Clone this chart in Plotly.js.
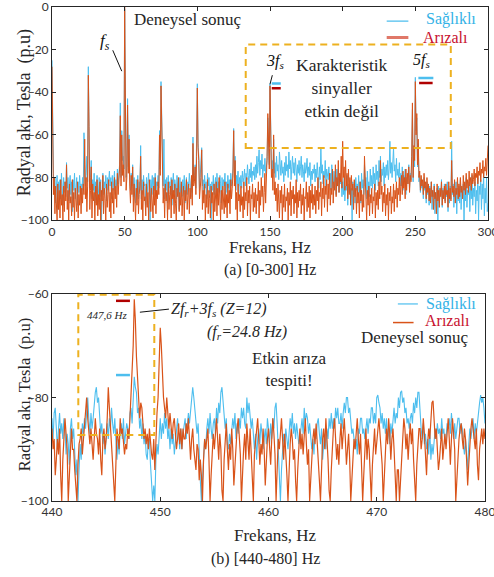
<!DOCTYPE html>
<html>
<head>
<meta charset="utf-8">
<script src="https://cdn.plot.ly/plotly-3.0.1.min.js"></script>
<style>html,body{margin:0;padding:0;background:#fff;}#chart{width:494px;height:577px;}</style>
</head>
<body>
<div id="chart"></div>
<script>
// ---- Data ----
// Top panel: 0-300 Hz, 0.5 Hz spacing (dB, p.u)
const freqTopStart = 0, freqTopStep = 0.5;
const healthyTop = [
-25,-64,-78,-88,-80,-92,-83,-79,-95,-82,-86,-81,-90,-78,-84,-93,-80,-87,-82,-89,
-73,-85,-80,-91,-83,-79,-88,-82,-96,-81,-86,-78,-90,-84,-80,-93,-82,-87,-79,-85,
-83,-88,-80,-86,-59,-74,-84,-79,-70,-82,-28,-60,-85,-80,-72,-90,-81,-86,-78,-92,
-82,-87,-79,-93,-84,-80,-89,-81,-100,-83,-78,-88,-82,-85,-79,-91,-80,-86,-83,-77,
-84,-80,-90,-79,-86,-82,-77,-88,-81,-84,-76,-83,-79,-74,-45,-80,-58,-72,-70,-76,
-1,-70,-80,-76,-43,-75,-60,-80,-86,-78,-84,-74,-89,-80,-85,-92,-81,-87,-79,-90,
-82,-86,-65,-90,-81,-88,-79,-84,-83,-93,-80,-87,-82,-78,-86,-100,-81,-85,-79,-88,
-80,-86,-78,-89,-82,-84,-79,-85,-58,-76,-35,-55,-68,-84,-62,-90,-81,-86,-80,-92,
-79,-85,-82,-88,-80,-93,-83,-78,-87,-81,-84,-90,-79,-86,-82,-95,-80,-87,-83,-89,
-81,-86,-79,-92,-84,-80,-88,-82,-85,-78,-83,-89,-80,-87,-61,-82,-79,-74,-85,-68,
-36,-64,-70,-86,-80,-78,-66,-84,-81,-88,-79,-85,-82,-90,-78,-84,-80,-87,-83,-100,
-82,-86,-79,-88,-84,-80,-90,-78,-85,-82,-87,-79,-83,-92,-80,-86,-81,-84,-78,-88,
-82,-87,-79,-85,-81,-89,-78,-84,-80,-76,-57,-80,-70,-86,-79,-83,-77,-88,-80,-84,
-79,-85,-77,-82,-80,-76,-84,-78,-81,-74,-79,-83,-76,-80,-73,-82,-77,-79,-75,-81,
-74,-80,-70,-78,-73,-67,-79,-72,-76,-69,-80,-74,-77,-71,-78,-75,-72,-52,-70,-74,
-36,-60,-76,-72,-80,-62,-78,-73,-80,-70,-77,-74,-81,-68,-76,-79,-72,-78,-75,-82,
-73,-79,-70,-77,-74,-80,-68,-76,-72,-81,-75,-70,-78,-73,-79,-71,-76,-82,-74,-78,
-72,-79,-75,-70,-80,-74,-77,-82,-73,-78,-76,-71,-80,-75,-79,-73,-84,-77,-81,-76,
-78,-74,-82,-76,-80,-73,-79,-85,-75,-81,-66,-78,-74,-83,-77,-80,-72,-84,-76,-79,
-81,-75,-83,-78,-86,-74,-80,-85,-77,-82,-79,-88,-76,-84,-80,-87,-78,-83,-81,-89,
-82,-88,-80,-91,-84,-86,-79,-93,-83,-87,-81,-90,-85,-100,-82,-88,-84,-92,-80,-86,
-83,-89,-79,-87,-82,-92,-78,-85,-81,-88,-74,-84,-80,-90,-77,-86,-82,-89,-76,-84,
-79,-85,-75,-83,-78,-86,-74,-81,-77,-84,-72,-80,-70,-82,-76,-79,-73,-84,-75,-80,
-74,-79,-72,-81,-76,-63,-78,-73,-80,-75,-66,-77,-74,-82,-71,-79,-76,-80,-73,-84,
-78,-84,-75,-86,-79,-82,-76,-88,-80,-83,-77,-74,-85,-78,-81,-72,-48,-82,-66,-75,
-33,-58,-52,-75,-64,-82,-79,-87,-81,-85,-83,-90,-80,-86,-84,-92,-82,-88,-85,-93,
-84,-90,-82,-95,-86,-89,-83,-97,-87,-91,-85,-100,-84,-92,-86,-88,-81,-94,-85,-90,
-83,-91,-86,-89,-82,-96,-85,-92,-84,-90,-63,-88,-83,-94,-86,-90,-82,-97,-85,-91,
-84,-92,-81,-95,-86,-89,-83,-100,-85,-91,-80,-94,-86,-88,-82,-96,-84,-90,-79,-93,
-85,-89,-82,-97,-86,-91,-80,-100,-84,-88,-81,-95,-83,-90,-78,-98,-85,-92,-80,-96,
-92];
const faultyTop = [
-28,-68,-88,-80,-97,-84,-92,-100,-83,-95,-86,-99,-81,-93,-88,-100,-84,-96,-82,-91,
-74,-95,-86,-100,-83,-92,-89,-98,-81,-94,-87,-100,-85,-90,-96,-82,-99,-88,-93,-84,
-97,-85,-92,-83,-88,-62,-90,-80,-96,-84,-32,-56,-95,-86,-75,-99,-83,-91,-87,-100,
-84,-93,-81,-98,-88,-95,-82,-100,-86,-91,-79,-97,-85,-90,-100,-83,-94,-88,-81,-96,
-87,-99,-82,-92,-85,-97,-80,-90,-84,-94,-78,-88,-82,-76,-51,-84,-60,-79,-74,-82,
0,-72,-86,-80,-46,-78,-62,-84,-92,-79,-88,-75,-96,-83,-90,-100,-85,-93,-81,-97,
-88,-84,-70,-95,-86,-100,-82,-91,-89,-98,-83,-94,-87,-100,-81,-92,-96,-85,-90,-99,
-84,-93,-80,-97,-86,-90,-82,-88,-60,-79,-37,-58,-70,-92,-85,-99,-83,-91,-87,-100,
-82,-95,-88,-84,-99,-81,-90,-86,-97,-83,-92,-100,-85,-89,-80,-96,-87,-93,-82,-98,
-89,-84,-100,-86,-91,-81,-95,-88,-83,-97,-85,-90,-79,-93,-64,-84,-82,-75,-88,-70,
-38,-66,-72,-90,-84,-80,-67,-95,-86,-92,-83,-100,-88,-94,-81,-97,-86,-90,-99,-84,
-92,-87,-100,-83,-96,-89,-82,-98,-85,-93,-80,-91,-100,-86,-95,-84,-90,-97,-82,-94,
-88,-99,-83,-92,-86,-97,-81,-90,-85,-78,-58,-84,-72,-95,-87,-100,-83,-91,-88,-96,
-84,-93,-89,-99,-82,-95,-87,-91,-80,-98,-86,-92,-84,-100,-88,-90,-83,-96,-87,-94,
-85,-97,-88,-91,-82,-99,-86,-93,-80,-89,-84,-96,-87,-78,-92,-83,-70,-50,-72,-76,
-37,-62,-80,-76,-86,-60,-88,-82,-91,-85,-96,-83,-90,-99,-86,-92,-84,-100,-88,-94,
-83,-96,-89,-91,-85,-100,-87,-93,-82,-98,-86,-90,-84,-97,-88,-92,-81,-99,-87,-94,
-86,-91,-83,-97,-88,-93,-85,-100,-89,-90,-82,-96,-87,-94,-84,-99,-86,-92,-83,-95,
-88,-93,-84,-97,-86,-91,-80,-95,-87,-89,-82,-98,-85,-90,-79,-94,-84,-88,-81,-96,
-83,-90,-78,-93,-85,-88,-76,-92,-82,-86,-74,-89,-80,-84,-72,-87,-78,-82,-70,-85,
-63,-80,-75,-86,-72,-84,-78,-90,-76,-88,-80,-93,-79,-86,-83,-95,-81,-89,-85,-97,
-84,-92,-87,-99,-82,-91,-86,-96,-88,-94,-70,-85,-90,-100,-86,-93,-84,-98,-88,-92,
-85,-97,-89,-91,-83,-99,-87,-93,-86,-95,-82,-90,-72,-88,-84,-96,-87,-92,-83,-98,
-88,-93,-85,-100,-87,-91,-84,-97,-89,-92,-83,-96,-86,-90,-82,-94,-85,-88,-80,-91,
-84,-79,-88,-77,-85,-80,-90,-76,-86,-78,-83,-75,-87,-79,-82,-70,-45,-80,-65,-72,
-35,-60,-50,-74,-62,-80,-77,-86,-79,-84,-81,-88,-78,-85,-82,-90,-80,-87,-83,-91,
-85,-92,-82,-89,-86,-95,-84,-90,-87,-97,-83,-91,-86,-94,-85,-89,-82,-93,-86,-90,
-84,-92,-83,-88,-86,-94,-82,-90,-85,-91,-72,-87,-84,-89,-81,-92,-85,-88,-80,-90,
-83,-89,-80,-87,-84,-90,-79,-86,-82,-88,-78,-85,-81,-87,-77,-84,-80,-86,-78,-83,
-81,-76,-84,-78,-80,-75,-83,-77,-79,-73,-82,-76,-78,-72,-80,-75,-77,-71,-79,-74,
-65];

// Bottom panel: 440-480 Hz, 0.1 Hz spacing (one row = 1 Hz)
const freqZoomStart = 440, freqZoomStep = 0.1;
const healthyZoom = [
-84,-88,-83,-82,-86,-90,-86,-83,-87,-85,
-88,-84,-86,-91,-87,-89,-93,-86,-84,-88,
-86,-91,-95,-92,-100,-94,-89,-92,-85,-87,
-84,-86,-82,-80,-84,-87,-83,-86,-84,-81,
-79,-78,-81,-80,-84,-87,-85,-89,-87,-91,
-88,-85,-88,-84,-86,-82,-85,-87,-84,-90,
-92,-88,-91,-86,-85,-88,-84,-89,-87,-85,
-86,-88,-83,-82,-85,-80,-76,-78,-79,-83,
-82,-86,-84,-88,-85,-89,-87,-91,-92,-88,
-88,-93,-96,-100,-97,-100,-92,-89,-91,-86,
-84,-88,-85,-87,-83,-86,-84,-88,-86,-90,
-86,-89,-87,-91,-88,-85,-84,-87,-90,-86,
-90,-87,-85,-84,-88,-86,-83,-85,-82,-80,
-78,-80,-82,-84,-87,-85,-92,-96,-100,-97,
-92,-88,-90,-86,-84,-87,-83,-86,-88,-85,
-84,-87,-82,-85,-81,-83,-79,-78,-81,-82,
-86,-84,-89,-90,-87,-89,-86,-84,-86,-83,
-88,-85,-87,-84,-86,-82,-84,-82,-85,-86,
-80,-83,-81,-83,-86,-84,-88,-90,-87,-92,
-88,-86,-89,-85,-87,-90,-88,-86,-89,-84,
-86,-89,-85,-88,-84,-86,-82,-81,-85,-90,
-97,-100,-94,-90,-87,-89,-86,-88,-90,-87,
-84,-86,-83,-87,-85,-88,-85,-87,-89,-88,
-86,-84,-87,-82,-85,-83,-84,-87,-85,-88,
-90,-88,-91,-86,-88,-85,-84,-87,-89,-86,
-92,-89,-87,-90,-86,-88,-84,-86,-83,-86,
-84,-86,-82,-84,-82,-85,-85,-83,-86,-83,
-81,-83,-80,-80,-83,-82,-84,-87,-86,-88,
-90,-88,-91,-86,-87,-84,-84,-87,-86,-88,
-86,-84,-87,-84,-85,-82,-82,-85,-83,-85,
-80,-79.5,-81,-82,-85,-83,-86,-84,-87,-84,
-88,-86,-89,-85,-87,-84,-82,-85,-83,-84,
-80,-82,-79,-78.7,-81,-80,-83,-82,-85,-84,
-86,-84,-83,-85,-81,-83,-80,-82,-79,-79,
-84,-86,-88,-85,-89,-87,-90,-88,-91,-86,
-92,-89,-91,-88,-86,-88,-85,-87,-86,-88,
-84,-87,-86,-89,-88,-85,-86,-84,-87,-83,
-86,-88,-85,-88,-86,-84,-84,-87,-85,-86,
-89,-91,-88,-92,-94,-89,-86,-88,-85,-84,
-88,-85,-87,-84,-83,-81,-79.5,-81,-80,-82,
-85];
const faultyZoom = [
-86,-90,-88,-95,-92,-88,-91,-86,-95,-100,
-92,-88,-84,-87,-90,-100,-94,-89,-86,-90,
-90,-94,-97,-100,-93,-89,-88,-86,-91,-88,
-86,-83,-80,-84,-86,-89,-86,-90,-92,-88,
-84,-87,-88,-91,-86,-92,-95,-88,-86,-90,
-88,-84,-78,-82,-86,-88,-92,-96,-100,-93,
-86,-88,-90,-84,-87,-86,-88,-91,-89,-90,
-86,-88,-84,-80,-76,-70,-61,-65,-72,-78,
-80,-84,-81,-82,-85,-88,-86,-89,-87,-90,
-86,-89,-91,-92,-88,-94,-86,-83,-80,-72,
-66.5,-70,-76,-80,-82,-84,-80,-84,-86,-83,
-86,-88,-85,-84,-87,-90,-88,-85,-89,-86,
-90,-86,-88,-88,-85,-87,-84,-89,-92,-88,
-86,-90,-93,-94,-89,-90,-96,-92,-95,-100,
-92,-88,-90,-88,-86,-92,-100,-95,-90,-87,
-90,-86,-84,-88,-92,-87,-90,-98,-100,-92,
-88,-85,-90,-94,-89,-92,-86,-90,-97,-93,
-89,-86,-84,-88,-91,-100,-94,-90,-87,-92,
-85,-88,-92,-86,-90,-95,-100,-91,-88,-86,
-84,-88,-93,-89,-91,-86,-90,-97,-92,-88,
-86,-90,-93,-88,-84,-87,-91,-100,-94,-88,
-90,-86,-84,-88,-92,-87,-90,-95,-100,-93,
-89,-86,-88,-92,-90,-96,-100,-94,-88,-86,
-90,-87,-91,-86,-84,-89,-93,-90,-100,-96,
-90,-88,-86,-89,-85,-88,-92,-96,-100,-93,
-88,-86,-90,-84,-87,-92,-98,-100,-94,-89,
-86,-84,-88,-92,-89,-93,-88,-85,-90,-86,
-84,-88,-93,-90,-87,-92,-100,-96,-90,-88,
-90,-86,-84,-88,-91,-87,-93,-100,-95,-89,
-86,-92,-88,-90,-96,-100,-93,-89,-86,-91,
-88,-85,-84,-87,-90,-93,-100,-96,-90,-86,
-89,-84,-87,-92,-88,-86,-90,-95,-100,-94,
-94,-100,-96,-90,-88,-84,-86,-90,-87,-92,
-88,-85,-89,-86,-92,-98,-100,-93,-88,-86,
-86,-90,-88,-84,-87,-92,-95,-89,-86,-88,
-85,-81,-80.6,-84,-88,-86,-90,-94,-92,-88,
-86,-92,-89,-87,-90,-86,-84,-88,-93,-88,
-84,-87,-90,-100,-95,-90,-88,-86,-85,-88,
-90,-86,-88,-92,-97,-93,-89,-86,-84,-87,
-88,-90,-86,-93,-96,-90,-87,-86,-89,-86,
-88];

const seriesNames = ['Sağlıklı', 'Arızalı'];
const topXTicks = [0, 50, 100, 150, 200, 250, 300];
const topYTicks = [0, -20, -40, -60, -80, -100];
const zoomXTicks = [440, 450, 460, 470, 480];
const zoomYTicks = [-60, -80, -100];

// ---- Styling ----
const BLUE = '#4DBEEE', ORANGE = '#D95319', BOX = '#EDB120';
const SERIF = '"Liberation Serif", "Times New Roman", serif';
const TICKF = {family: 'Lato, "Liberation Sans", sans-serif', size: 12, color: '#333'};
const TXT = '#262626';

const traces = [
  {type:'scatter', mode:'lines', name:seriesNames[0], x0:freqTopStart, dx:freqTopStep, y:healthyTop,
   xaxis:'x', yaxis:'y', line:{color:BLUE, width:1}, showlegend:false},
  {type:'scatter', mode:'lines', name:seriesNames[1], x0:freqTopStart, dx:freqTopStep, y:faultyTop,
   xaxis:'x', yaxis:'y', line:{color:ORANGE, width:1}, showlegend:false},
  {type:'scatter', mode:'lines', name:seriesNames[0], x0:freqZoomStart, dx:freqZoomStep, y:healthyZoom,
   xaxis:'x2', yaxis:'y2', line:{color:BLUE, width:1.1}, showlegend:false},
  {type:'scatter', mode:'lines', name:seriesNames[1], x0:freqZoomStart, dx:freqZoomStep, y:faultyZoom,
   xaxis:'x2', yaxis:'y2', line:{color:ORANGE, width:1.2}, showlegend:false}
];

function axisBase(extra){
  return Object.assign({
    showline:true, linecolor:'#262626', linewidth:1, mirror:'ticks',
    ticks:'inside', ticklen:4, tickcolor:'#262626', tickwidth:1,
    showgrid:false, zeroline:false, tickfont:TICKF, fixedrange:true,
    ticklabeloverflow:'allow'
  }, extra);
}

const shapes = [
  // top dashed box
  {type:'rect', xref:'x', yref:'y', x0:133.3, x1:274.4, y0:-66.1, y1:-17.6,
   line:{color:BOX, width:2, dash:'7px,5px'}},
  // fs pointer
  {type:'line', xref:'x', yref:'y', x0:41.8, y0:-20.3, x1:48.0, y1:-30.1, line:{color:'#111', width:1}},
  // 3fs pointer + markers
  {type:'line', xref:'x', yref:'y', x0:151.6, y0:-32.0, x1:150.0, y1:-36.2, line:{color:'#111', width:1}},
  {type:'line', xref:'x', yref:'y', x0:151.2, y0:-35.9, x1:157.4, y1:-35.9, line:{color:BLUE, width:2.5}},
  {type:'line', xref:'x', yref:'y', x0:151.2, y0:-38.1, x1:157.4, y1:-38.1, line:{color:'#B00000', width:2.5}},
  // 5fs markers
  {type:'line', xref:'x', yref:'y', x0:252.1, y0:-33.3, x1:262.4, y1:-33.3, line:{color:BLUE, width:2.5}},
  {type:'line', xref:'x', yref:'y', x0:252.6, y0:-35.6, x1:261.9, y1:-35.6, line:{color:'#B00000', width:2.5}},
  // top legend lines
  {type:'line', xref:'x', yref:'y', x0:230.3, y0:-6.6, x1:245.2, y1:-6.6, line:{color:BLUE, width:1.2}},
  {type:'line', xref:'x', yref:'y', x0:230.3, y0:-14.3, x1:245.2, y1:-14.3, line:{color:'#E07868', width:3}},
  // bottom dashed box
  {type:'rect', xref:'x2', yref:'y2', x0:442.43, x1:449.45, y0:-87.25, y1:-60.1,
   line:{color:BOX, width:2, dash:'7px,5px'}},
  // 447.6 Hz markers
  {type:'line', xref:'x2', yref:'y2', x0:445.91, y0:-61.3, x1:447.2, y1:-61.3, line:{color:'#B00000', width:2.5}},
  {type:'line', xref:'x2', yref:'y2', x0:445.91, y0:-75.65, x1:447.2, y1:-75.65, line:{color:BLUE, width:2.5}},
  // pointer to Zfr+3fs
  {type:'line', xref:'x2', yref:'y2', x0:448.12, y0:-63.5, x1:450.8, y1:-62.9, line:{color:'#111', width:1}},
  // bottom legend lines
  {type:'line', xref:'x2', yref:'y2', x0:471.95, y0:-61.9, x1:473.8, y1:-61.9, line:{color:BLUE, width:1.2}},
  {type:'line', xref:'x2', yref:'y2', x0:471.5, y0:-65.5, x1:473.4, y1:-65.5, line:{color:ORANGE, width:1.5}}
];

function ann(o){ return Object.assign({showarrow:false, xanchor:'center', yanchor:'middle',
  font:{family:SERIF, size:17, color:TXT}}, o); }

const annotations = [
  // top panel texts
  ann({xref:'x', yref:'y', x:93.8, y:-5.8, text:'Deneysel sonuç'}),
  ann({xref:'x', yref:'y', x:36.8, y:-16.4, text:'<i>f<sub>s</sub></i>', font:{family:SERIF, size:17, color:'#111'}}),
  ann({xref:'x', yref:'y', x:153.1, y:-25.5, text:'<i>3f<sub>s</sub></i>', font:{family:SERIF, size:16, color:'#111'}}),
  ann({xref:'x', yref:'y', x:254.2, y:-25.0, text:'<i>5f<sub>s</sub></i>', font:{family:SERIF, size:16, color:'#111'}}),
  ann({xref:'x', yref:'y', x:199.8, y:-38.1, text:'Karakteristik<br>sinyaller<br>etkin değil', font:{family:SERIF, size:17.5, color:TXT}}),
  ann({xref:'x', yref:'y', x:256.3, y:-5.4, xanchor:'left', text:seriesNames[0], font:{family:SERIF, size:16, color:'#33B2E6'}}),
  ann({xref:'x', yref:'y', x:254.0, y:-14.1, xanchor:'left', text:seriesNames[1], font:{family:SERIF, size:16, color:'#C8102E'}}),
  // bottom panel texts
  ann({xref:'x2', yref:'y2', x:445.08, y:-64.1, text:'<i>447,6 Hz</i>', font:{family:SERIF, size:11, color:TXT}}),
  ann({xref:'x2', yref:'y2', x:450.8, y:-62.95, xanchor:'left', text:'<i>Zf<sub>r</sub>+3f<sub>s</sub> (Z=12)</i>', font:{family:SERIF, size:16, color:TXT}}),
  ann({xref:'x2', yref:'y2', x:458.05, y:-67.5, text:'<i>(f<sub>r</sub>=24.8 Hz)</i>', font:{family:SERIF, size:16, color:TXT}}),
  ann({xref:'x2', yref:'y2', x:461.97, y:-74.5, text:'Etkin arıza<br>tespiti!', font:{family:SERIF, size:17, color:TXT}}),
  ann({xref:'x2', yref:'y2', x:473.5, y:-68.3, text:'Deneysel sonuç', font:{family:SERIF, size:17, color:TXT}}),
  ann({xref:'x2', yref:'y2', x:474.4, y:-61.95, xanchor:'left', text:seriesNames[0], font:{family:SERIF, size:16, color:'#33B2E6'}}),
  ann({xref:'x2', yref:'y2', x:474.3, y:-65.1, xanchor:'left', text:seriesNames[1], font:{family:SERIF, size:16, color:'#C8102E'}}),
  // axis titles and captions
  ann({xref:'paper', yref:'paper', x:0.5, y:0.5139, text:'Frekans, Hz'}),
  ann({xref:'paper', yref:'paper', x:0.5, y:0.4673, text:'(a) [0-300] Hz', font:{family:SERIF, size:16, color:TXT}}),
  ann({xref:'paper', yref:'paper', x:0.5115, y:-0.0708, text:'Frekans, Hz'}),
  ann({xref:'paper', yref:'paper', x:0.4908, y:-0.1173, text:'(b) [440-480] Hz', font:{family:SERIF, size:16, color:TXT}}),
  ann({xref:'paper', yref:'paper', x:-0.064, y:0.785, textangle:-90, text:'Radyal akı, Tesla\u00A0 (p.u)', font:{family:SERIF, size:18, color:TXT}}),
  ann({xref:'paper', yref:'paper', x:-0.064, y:0.2144, textangle:-90, text:'Radyal akı, Tesla\u00A0 (p.u)', font:{family:SERIF, size:16.5, color:TXT}})
];

const layout = {
  width:494, height:577,
  margin:{l:52, r:6, t:6.7, b:76},
  paper_bgcolor:'#fff', plot_bgcolor:'#fff',
  showlegend:false,
  xaxis: axisBase({domain:[0,1], range:[0,300], anchor:'y', tickmode:'array', tickvals:topXTicks}),
  yaxis: axisBase({domain:[0.5685,1], range:[-100,0], anchor:'x', tickmode:'array', tickvals:topYTicks}),
  xaxis2: axisBase({domain:[0,0.9931], range:[440,480], anchor:'y2', tickmode:'array', tickvals:zoomXTicks}),
  yaxis2: axisBase({domain:[0,0.4188], range:[-100,-60], anchor:'x2', tickmode:'array', tickvals:zoomYTicks}),
  shapes: shapes,
  annotations: annotations
};

Plotly.newPlot('chart', traces, layout, {displayModeBar:false, staticPlot:true});
</script>
</body>
</html>
